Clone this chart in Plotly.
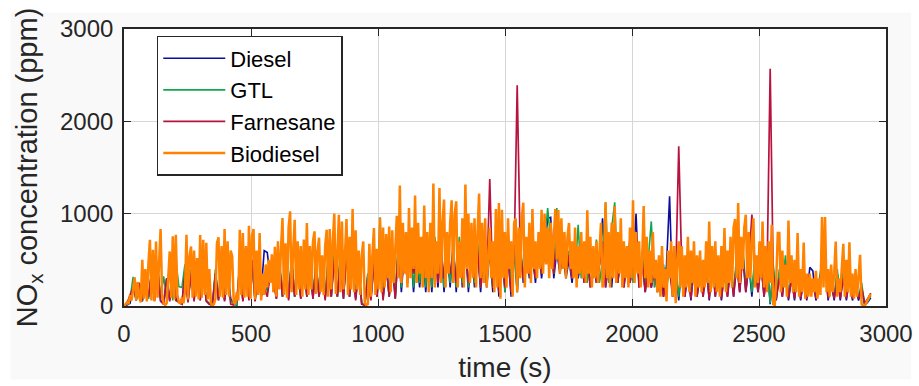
import numpy as np
import plotly.graph_objects as go

# Sampling intervals of the logged NOx traces (s)
DT_BIODIESEL = 6
DT_OTHERS = 12

biodiesel = [
    0, 15, 40, 20, 120, 60, 210, 310, 60, 260,
    100, 40, 500, 80, 400, 50, 450, 717, 60, 609,
    50, 699, 90, 520, 833, 120, 30, 10, 30, 300,
    591, 90, 754, 70, 772, 120, 40, 30, 90, 30,
    150, 772, 70, 540, 645, 90, 600, 100, 520, 70,
    768, 90, 717, 120, 685, 70, 400, 30, 10, 20,
    80, 681, 743, 100, 650, 90, 833, 120, 700, 100,
    600, 536, 40, 20, 150, 60, 826, 120, 790, 90,
    650, 100, 869, 80, 760, 833, 70, 600, 120, 790,
    60, 350, 120, 450, 200, 500, 250, 560, 150, 640,
    100, 700, 180, 620, 953, 120, 680, 90, 850, 1025,
    150, 600, 934, 120, 700, 180, 650, 100, 720, 180,
    898, 120, 650, 180, 700, 808, 130, 600, 740, 150,
    550, 120, 650, 826, 100, 833, 180, 700, 1000, 130,
    600, 989, 150, 916, 180, 680, 942, 120, 750, 180,
    1051, 150, 820, 180, 600, 120, 550, 699, 30, 10,
    20, 673, 100, 560, 844, 120, 620, 180, 953, 150,
    850, 200, 780, 300, 860, 150, 820, 250, 700, 978,
    300, 1304, 250, 900, 350, 800, 200, 1062, 300, 850,
    400, 1196, 250, 900, 350, 750, 200, 1087, 300, 800,
    150, 900, 300, 1326, 200, 700, 350, 1279, 250, 900,
    1152, 200, 800, 350, 900, 1145, 250, 1000, 1134, 200,
    700, 300, 950, 200, 1315, 400, 1000, 250, 900, 300,
    950, 200, 800, 1217, 300, 900, 250, 950, 200, 600,
    850, 300, 700, 150, 1050, 200, 1116, 80, 1043, 300,
    800, 200, 950, 400, 700, 100, 900, 950, 150, 850,
    300, 950, 1119, 200, 750, 350, 900, 250, 1051, 400,
    700, 300, 800, 400, 1043, 350, 1000, 450, 850, 300,
    900, 400, 800, 1051, 500, 1040, 350, 950, 400, 800,
    300, 750, 899, 400, 700, 300, 850, 200, 650, 350,
    800, 300, 700, 250, 1036, 350, 750, 200, 650, 300,
    700, 250, 600, 900, 200, 350, 1123, 300, 800, 200,
    900, 300, 1080, 250, 800, 350, 950, 200, 700, 300,
    650, 200, 850, 300, 1145, 250, 800, 350, 700, 200,
    500, 1083, 300, 750, 200, 600, 250, 800, 300, 500,
    150, 550, 100, 650, 200, 400, 50, 600, 300, 700,
    100, 650, 30, 500, 700, 200, 650, 100, 550, 200,
    750, 150, 600, 250, 700, 100, 550, 200, 600, 150,
    500, 200, 700, 250, 916, 150, 650, 200, 700, 150,
    550, 100, 650, 200, 844, 150, 600, 250, 750, 200,
    850, 942, 300, 1116, 250, 750, 400, 850, 989, 300,
    800, 300, 700, 950, 200, 550, 250, 700, 300, 916,
    200, 650, 150, 700, 250, 880, 20, 10, 300, 790,
    790, 150, 600, 200, 450, 100, 927, 250, 550, 150,
    500, 150, 790, 100, 400, 150, 688, 80, 350, 100,
    350, 100, 300, 150, 380, 80, 300, 120, 963, 200,
    963, 150, 400, 100, 450, 150, 350, 699, 100, 300,
    150, 400, 673, 100, 500, 150, 690, 100, 350, 80,
    400, 100, 300, 554, 20, 0, 0, 40, 70, 100,
    130,
]

diesel = [
    0, 10, 30, 200, 60, 220, 50, 300, 80, 350,
    60, 450, 60, 20, 300, 60, 500, 80, 40, 20,
    400, 60, 350, 60, 450, 80, 350, 60, 20, 10,
    350, 80, 450, 60, 400, 80, 20, 10, 450, 60,
    450, 80, 500, 60, 450, 150, 600, 580, 300, 400,
    80, 450, 100, 550, 80, 500, 100, 450, 80, 450,
    100, 400, 80, 450, 100, 400, 80, 500, 100, 550,
    100, 550, 80, 600, 100, 500, 80, 400, 20, 10,
    350, 80, 450, 100, 550, 80, 450, 100, 500, 80,
    650, 150, 600, 250, 650, 150, 550, 200, 600, 150,
    650, 150, 700, 200, 650, 150, 600, 200, 650, 150,
    700, 200, 650, 150, 600, 200, 650, 150, 600, 200,
    600, 150, 650, 100, 600, 150, 550, 100, 600, 150,
    650, 250, 600, 300, 550, 250, 650, 300, 600, 950,
    960, 300, 600, 350, 550, 300, 500, 250, 550, 300,
    500, 250, 550, 200, 500, 250, 450, 950, 200, 500,
    200, 650, 250, 550, 200, 500, 250, 450, 1000, 200,
    500, 150, 450, 200, 400, 150, 400, 100, 450, 1188,
    100, 400, 60, 450, 100, 400, 60, 450, 100, 350,
    100, 450, 60, 500, 100, 450, 60, 400, 100, 450,
    100, 500, 150, 600, 150, 450, 100, 500, 150, 450,
    100, 450, 20, 400, 60, 350, 100, 500, 60, 300,
    60, 400, 60, 300, 60, 420, 380, 60, 200, 450,
    500, 60, 250, 60, 350, 60, 350, 60, 300, 60,
    200, 60, 200, 10, 40, 90,
]

gtl = [
    0, 20, 80, 315, 60, 250, 50, 300, 80, 350,
    60, 400, 80, 320, 80, 450, 60, 500, 210, 200,
    450, 60, 400, 80, 450, 60, 400, 60, 30, 10,
    400, 60, 500, 80, 350, 60, 20, 10, 500, 60,
    500, 100, 450, 60, 400, 100, 350, 150, 350, 300,
    100, 500, 100, 600, 100, 550, 100, 500, 100, 500,
    100, 450, 100, 500, 100, 450, 100, 550, 100, 600,
    100, 600, 100, 550, 100, 600, 100, 450, 30, 10,
    350, 100, 500, 100, 960, 100, 500, 100, 550, 100,
    700, 200, 650, 250, 700, 200, 600, 250, 650, 200,
    700, 200, 750, 250, 700, 200, 650, 250, 700, 200,
    750, 250, 700, 200, 650, 250, 700, 200, 650, 250,
    650, 200, 700, 150, 650, 150, 820, 200, 650, 150,
    700, 300, 650, 350, 600, 300, 700, 350, 650, 1060,
    700, 350, 1060, 400, 650, 350, 600, 300, 350, 880,
    300, 550, 250, 600, 300, 720, 250, 500, 1123, 250,
    844, 1123, 250, 600, 300, 550, 710, 250, 700, 250,
    600, 250, 500, 916, 200, 450, 150, 450, 200, 400,
    150, 450, 100, 500, 150, 450, 100, 500, 150, 400,
    150, 500, 100, 550, 150, 500, 100, 450, 150, 500,
    150, 550, 200, 650, 200, 500, 150, 550, 200, 500,
    150, 500, 30, 450, 100, 400, 150, 550, 100, 350,
    100, 450, 100, 350, 100, 300, 250, 100, 250, 500,
    550, 100, 300, 100, 400, 100, 400, 100, 350, 100,
    250, 100, 250, 10, 50, 110,
]

farnesane = [
    0, 30, 120, 200, 100, 250, 60, 300, 100, 350,
    60, 450, 50, 20, 300, 50, 450, 60, 40, 20,
    350, 40, 350, 50, 400, 60, 350, 50, 20, 10,
    350, 60, 400, 50, 350, 20, 10, 60, 450, 50,
    450, 60, 500, 50, 350, 100, 200, 100, 350, 250,
    80, 450, 100, 550, 60, 500, 100, 450, 80, 450,
    100, 400, 80, 450, 100, 400, 60, 450, 100, 500,
    100, 500, 80, 550, 100, 450, 60, 400, 20, 10,
    300, 60, 450, 100, 500, 60, 450, 100, 450, 80,
    600, 250, 550, 400, 600, 350, 500, 450, 550, 300,
    600, 300, 650, 250, 600, 300, 550, 350, 600, 250,
    650, 300, 600, 250, 550, 300, 600, 200, 550, 250,
    1376, 200, 550, 150, 500, 200, 500, 150, 550, 2390,
    600, 300, 550, 350, 500, 300, 600, 350, 550, 700,
    700, 350, 750, 400, 600, 350, 550, 300, 550, 350,
    500, 250, 550, 200, 500, 250, 450, 700, 200, 500,
    650, 800, 250, 550, 200, 500, 250, 450, 700, 200,
    500, 150, 450, 200, 400, 150, 350, 100, 300, 400,
    100, 300, 1730, 400, 100, 350, 80, 400, 100, 350,
    100, 400, 80, 450, 100, 400, 80, 350, 100, 400,
    100, 450, 150, 550, 150, 450, 990, 450, 150, 450,
    100, 400, 2570, 350, 80, 300, 100, 450, 80, 300,
    80, 350, 80, 300, 80, 250, 250, 80, 200, 450,
    450, 80, 250, 80, 300, 80, 300, 80, 300, 80,
    200, 80, 200, 30, 80, 140,
]

x_ticks = [0, 500, 1000, 1500, 2000, 2500, 3000]
y_ticks = [0, 1000, 2000, 3000]

series = [
    ("Diesel", diesel, DT_OTHERS, "#0c0ca0", 1.6),
    ("GTL", gtl, DT_OTHERS, "#12a64c", 1.6),
    ("Farnesane", farnesane, DT_OTHERS, "#b8123f", 1.7),
    ("Biodiesel", biodiesel, DT_BIODIESEL, "#ff8200", 2.5),
]

FONT = "Liberation Sans, Arial, sans-serif"
INK = "#262626"

fig = go.Figure()
for name, values, dt, color, width in series:
    t = np.arange(len(values)) * dt
    fig.add_trace(go.Scatter(
        x=t, y=values, name=name, mode="lines",
        line=dict(color=color, width=width),
    ))

axis_common = dict(
    showline=True, linecolor=INK, linewidth=1.6, mirror="ticks",
    ticks="inside", ticklen=7, tickwidth=1.4, tickcolor=INK,
    showgrid=True, gridcolor="#d6d6d6", gridwidth=1,
    zeroline=False, automargin=False,
    tickfont=dict(family=FONT, size=24, color=INK),
)

fig.update_layout(
    width=919, height=386,
    margin=dict(l=124, r=33, t=29, b=80),
    paper_bgcolor="white", plot_bgcolor="white",
    font=dict(family=FONT, color=INK),
    xaxis=dict(
        range=[0, 3000], tickvals=x_ticks, ticklabelstandoff=5,
        title=dict(text="time (s)", font=dict(family=FONT, size=28, color=INK), standoff=12),
        **axis_common,
    ),
    yaxis=dict(
        range=[0, 3000], tickvals=y_ticks, ticklabelstandoff=4,
        title=dict(text="NO<sub>x</sub> concentration (ppm)",
                   font=dict(family=FONT, size=29, color=INK), standoff=14),
        **axis_common,
    ),
    legend=dict(
        x=0.043, y=0.975, xanchor="left", yanchor="top",
        bgcolor="white", bordercolor=INK, borderwidth=1.5,
        font=dict(family=FONT, size=22, color="black"),
        itemwidth=62, tracegroupgap=0,
    ),
    shapes=[
        dict(type="rect", xref="paper", yref="paper", layer="below",
             x0=-0.149, x1=1.033, y0=-0.265, y1=1.06,
             fillcolor="#f9f9f9", line=dict(width=0)),
        dict(type="rect", xref="paper", yref="paper", layer="below",
             x0=0, x1=1, y0=0, y1=1,
             fillcolor="white", line=dict(width=0)),
    ],
)

fig.write_html("out.html")
